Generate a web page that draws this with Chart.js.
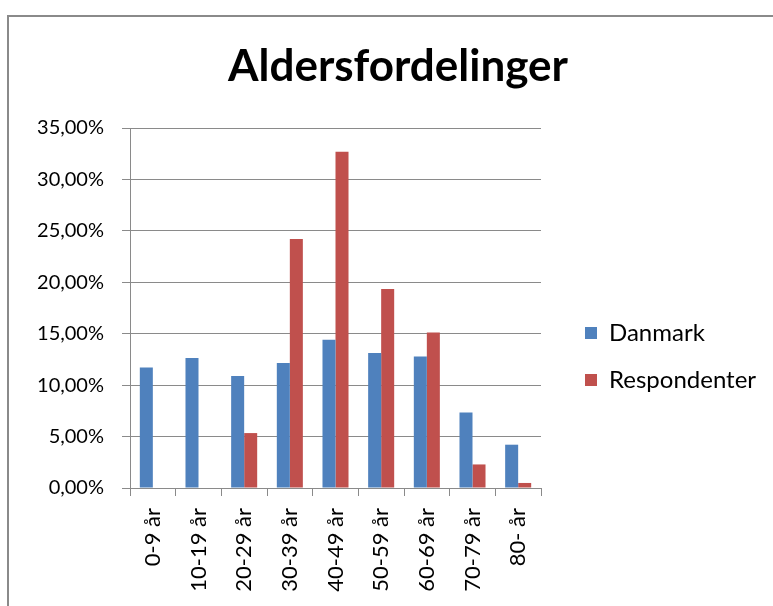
<!DOCTYPE html>
<html>
<head>
<meta charset="utf-8">
<script src="https://cdn.jsdelivr.net/npm/chart.js@4.4.1/dist/chart.umd.min.js"></script>
<style>
  html, body { margin: 0; padding: 0; background: #fff; overflow: hidden; }
  #frame { position: absolute; left: 7px; top: 15px; width: 820px; height: 700px; border: 2px solid #8a8a8a; }
  #wrap { position: absolute; left: 0; top: 0; width: 796px; height: 606px; }
</style>
</head>
<body>
<div id="frame"></div>
<div id="wrap"><canvas id="myChart"></canvas></div>
<script>
'use strict';

let ageGroups = ['0-9 år', '10-19 år', '20-29 år', '30-39 år', '40-49 år', '50-59 år', '60-69 år', '70-79 år', '80- år'];
let danmark = [11.72, 12.63, 10.88, 12.15, 14.41, 13.12, 12.79, 7.35, 4.21];
let respondenter = [0, 0, 5.34, 24.2, 32.68, 19.34, 15.12, 2.29, 0.49];
let yTicks = [0, 5, 10, 15, 20, 25, 30, 35];

const fontName = 'Lato';
const gridColor = '#8a8a8a';
const legendPad = 23;

function percentLabel(value) {
  return value.toFixed(2).replace('.', ',') + '%';
}

// put the legend to the right of the plot, where the reference has it
const legendPlacer = {
  id: 'legendPlacer',
  afterLayout(chart) {
    const lg = chart.legend;
    lg.left = 585 - legendPad;
    lg.right = lg.left + lg.width;
    lg.top = 321 - legendPad;
    lg.bottom = lg.top + lg.height;
  }
};

const data = {
  labels: ageGroups,
  datasets: [{
    label: 'Danmark',
    data: danmark,
    backgroundColor: '#4F81BD',
    borderWidth: 0,
    categoryPercentage: 0.57,
    barPercentage: 1
  },
  {
    label: 'Respondenter',
    data: respondenter,
    backgroundColor: '#C0504D',
    borderWidth: 0,
    categoryPercentage: 0.57,
    barPercentage: 1
  }]
};

const config = {
  type: 'bar',
  data: data,
  plugins: [legendPlacer],
  options: {
    responsive: true,
    maintainAspectRatio: false,
    animation: false,
    layout: { padding: 0 },
    plugins: {
      title: {
        display: true,
        text: 'Aldersfordelinger',
        color: '#000',
        font: { family: fontName, size: 44, weight: 'bold', lineHeight: 1.2 },
        padding: { top: 40, bottom: 35.2 }
      },
      legend: {
        position: 'chartArea',
        align: 'start',
        labels: {
          color: '#000',
          boxWidth: 12,
          boxHeight: 12,
          padding: legendPad,
          font: { family: fontName, size: 24 }
        }
      },
      tooltip: { enabled: false }
    },
    scales: {
      x: {
        grid: { display: true, drawOnChartArea: false, drawTicks: true, tickLength: 8, color: gridColor, offset: true },
        border: { display: true, color: gridColor, width: 1 },
        ticks: {
          color: '#000',
          autoSkip: false,
          maxRotation: 90,
          minRotation: 90,
          padding: 12,
          font: { family: fontName, size: 22 }
        },
        afterFit(scale) { scale.height = 118; }
      },
      y: {
        min: 0,
        max: 35,
        grid: { color: gridColor, lineWidth: 1, tickLength: 8 },
        border: { display: true, color: gridColor, width: 1 },
        ticks: {
          color: '#000',
          stepSize: 5,
          padding: 18,
          font: { family: fontName, size: 20 },
          callback: function(value) { return percentLabel(value); }
        },
        afterBuildTicks(scale) { scale.ticks = yTicks.map(v => ({ value: v })); },
        afterFit(scale) { scale.width = 130; }
      },
      // empty axis that holds the space right of the plot
      side: {
        type: 'linear',
        position: 'right',
        display: true,
        grid: { display: false },
        border: { display: false },
        ticks: { display: false },
        afterFit(scale) { scale.width = 796 - 541; }
      }
    }
  }
};

const myChart = new Chart(document.getElementById('myChart'), config);
</script>
</body>
</html>
